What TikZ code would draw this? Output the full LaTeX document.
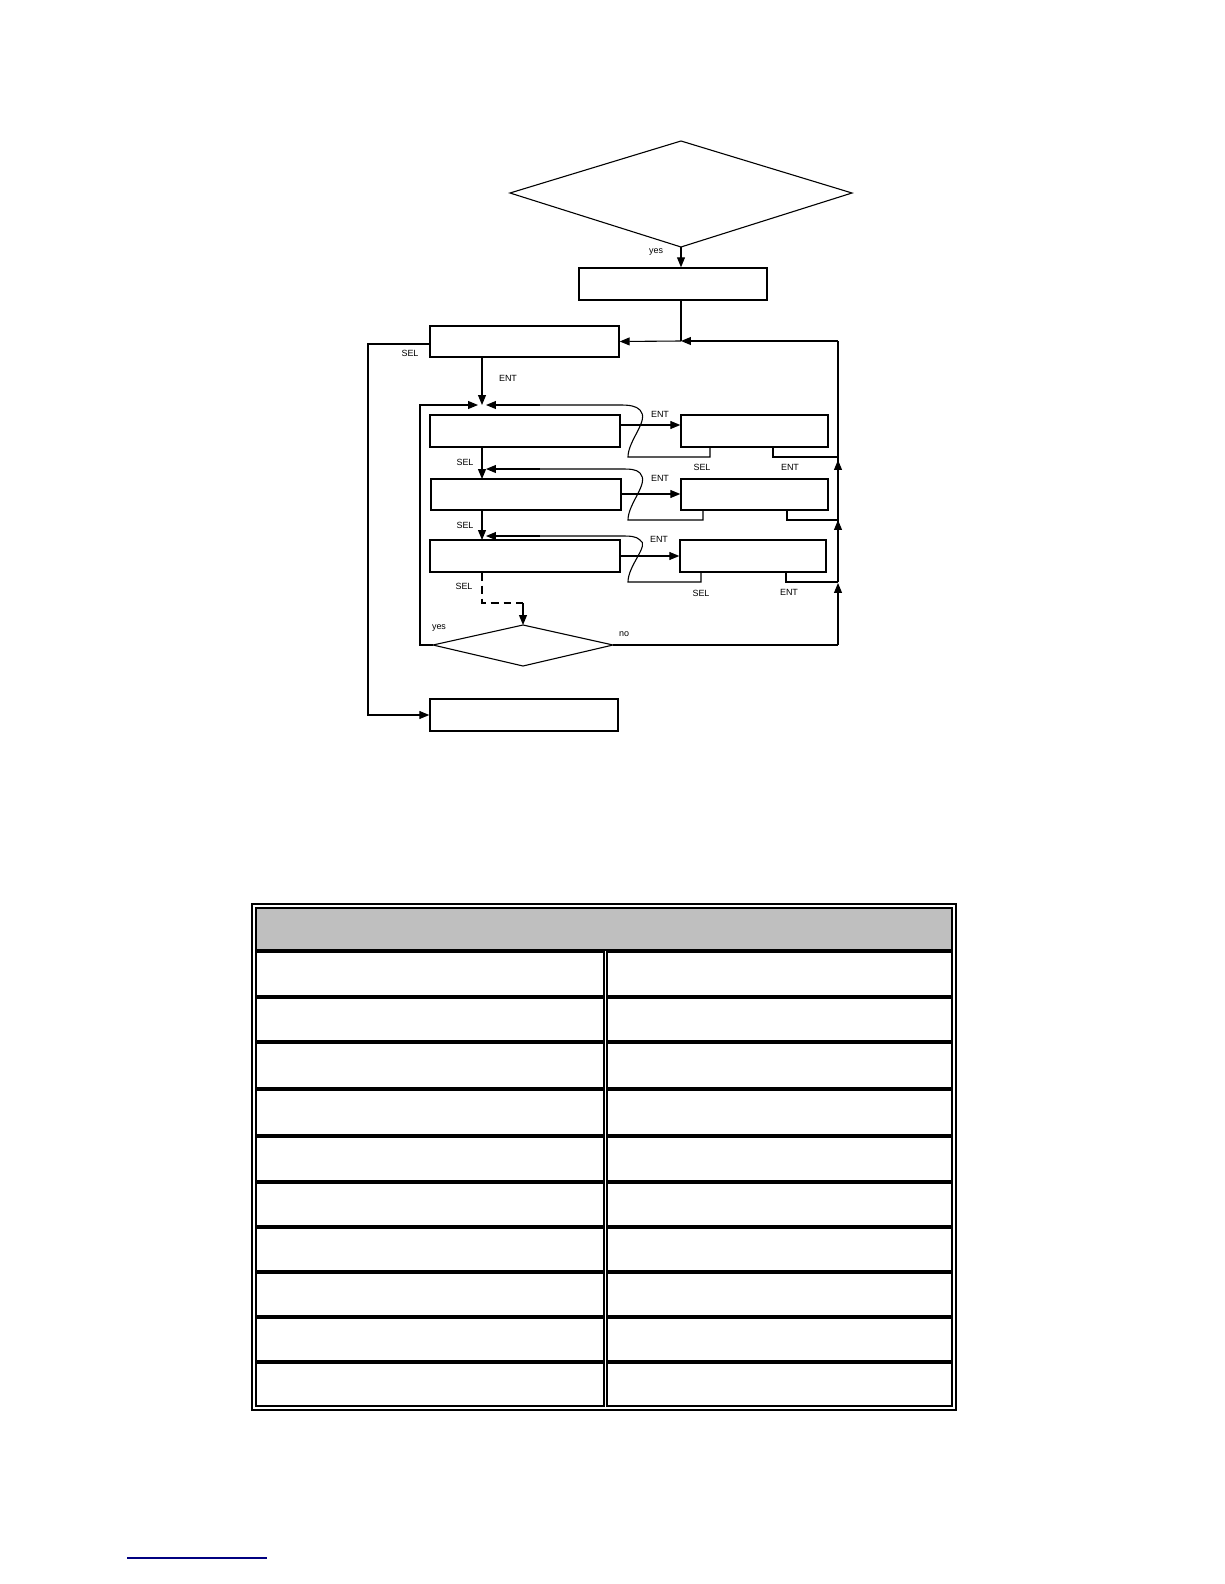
\documentclass[tikz,border=0pt]{standalone}
\usepackage{fontspec}
\setmainfont{Liberation Sans}
\usetikzlibrary{arrows.meta}
\begin{document}
\begin{tikzpicture}[x=1bp,y=-1bp,
  box/.style={draw,line width=1.4pt,minimum width=0pt,inner sep=0pt},
  ln/.style={line width=1.1pt},
  arr/.style={ln,-{Triangle[length=10pt,width=8pt]}},
  lbl/.style={font=\fontsize{9}{10}\selectfont,inner sep=0pt},
  cell/.style={draw,line width=1.1pt}]
% shapes
\coordinate (dT) at (681,141); \coordinate (dR) at (852,193); \coordinate (dB) at (681,247); \coordinate (dL) at (510,193);
\draw[ln] (dT)--(dR)--(dB)--(dL)--cycle;
\node[box,minimum width=188bp,minimum height=32bp] (b1) at (673,284) {};
\node[box,minimum width=189bp,minimum height=31bp] (b2) at (524.5,341.5) {};
\node[box,minimum width=188bp,minimum height=32bp] (bend) at (524,715) {};
\node[box,minimum width=190bp,minimum height=32bp] (A) at (525,431) {};
\node[box,minimum width=190bp,minimum height=31bp] (B) at (526,494.5) {};
\node[box,minimum width=190bp,minimum height=32bp] (C) at (525,556) {};
\node[box,minimum width=147bp,minimum height=32bp] (D) at (754.5,431) {};
\node[box,minimum width=147bp,minimum height=31bp] (E) at (754.5,494.5) {};
\node[box,minimum width=146bp,minimum height=32bp] (F) at (753,556) {};
\coordinate (sT) at (523,625); \coordinate (sR) at (613,645); \coordinate (sB) at (523,666); \coordinate (sL) at (433,645);
\draw[ln] (sT)--(sR)--(sB)--(sL)--cycle;
% connectors
\coordinate (j1) at (681,341); \coordinate (r0) at (838,341);
\draw[arr] (dB) -- (b1.north -| dB);
\node[lbl] at (656,252) {yes};
\draw[ln] (b1.south -| j1) -- (j1);
\draw[arr] (j1) -- (b2.east);
\draw[arr] (r0) -- (j1);
\coordinate (r1) at (838,457); \coordinate (r2) at (838,520); \coordinate (r3) at (838,582); \coordinate (r4) at (838,645);
\draw[ln] (r1) -- (r0);
\draw[arr] (r2) -- ++(0,-60);
\draw[ln] (r2) -- (r1);
\draw[arr] (r3) -- ++(0,-62);
\draw[ln] (r3) -- (r2);
\draw[arr] (r4) -- ++(0,-62);
\draw[ln] (sR) -- (r4);
\node[lbl] at (624,634) {no};
% SEL to end
\coordinate (s1) at (368,344); \coordinate (s2) at (368,715);
\draw[arr] (b2.west |- s1) -- (s1) -- (s2) -- (bend.west);
\node[lbl] at (410,353) {SEL};
% ENT into loop
\coordinate (top) at (482,405);
\draw[arr] (b2.south -| top) -- (top);
\node[lbl] at (508,378) {ENT};
% loop yes
\coordinate (y1) at (420,645); \coordinate (y2) at (420,405);
\draw[arr] (sL) -- (y1) -- (y2) -- (478,405);
\node[lbl] at (439,628) {yes};
% list SEL
\draw[arr] (A.south -| top) -- (482,479);
\node[lbl] at (465,462) {SEL};
\draw[arr] (B.south -| top) -- (482,540);
\node[lbl] at (465,525) {SEL};
\draw[ln,dashed,dash pattern=on 8pt off 5pt] (C.south -| top) -- (482,603) -- (523,603);
\draw[arr] (523,603) -- (sT);
\node[lbl] at (464,586) {SEL};
% ENT to detail
\draw[arr] (A.east |- 0,425) -- (D.west |- 0,425); \node[lbl] at (660,414) {ENT};
\draw[arr] (B.east |- 0,494) -- (E.west |- 0,494); \node[lbl] at (660,478) {ENT};
\draw[arr] (C.east |- 0,556) -- (F.west |- 0,556); \node[lbl] at (659,539) {ENT};
% SEL back
\draw[ln] (710,447) -- (710,457) -- (628,457) .. controls (628,440) and (650,420) .. (640,410) .. controls (636,406) and (630,405) .. (620,405) -- (490,405);
\draw[arr] (540,405) -- (486,405);
\draw[ln] (703,510) -- (703,520) -- (628,520) .. controls (628,503) and (650,483) .. (640,473) .. controls (636,469) and (630,469) .. (620,469) -- (490,469);
\draw[arr] (540,469) -- (486,469);
\draw[ln] (701,572) -- (701,582) -- (628,582) .. controls (628,565) and (650,545) .. (640,540) .. controls (636,536) and (630,536) .. (620,536) -- (490,536);
\draw[arr] (540,536) -- (486,536);
\node[lbl] at (702,467) {SEL}; \node[lbl] at (790,467) {ENT};
\node[lbl] at (701,593) {SEL}; \node[lbl] at (789,592) {ENT};
% ENT back
\draw[ln] (773,447) -- (773,457) -- (r1);
\draw[ln] (787,510) -- (787,520) -- (r2);
\draw[ln] (786,572) -- (786,582) -- (r3);
% table
\draw[line width=1.1pt] (252,904) rectangle (956,1410);
\draw[cell,fill=black!25] (256,908) rectangle (952,950);
\foreach \a/\b in {952/996,998/1041,1043/1088,1090/1135,1137/1181,1183/1226,1228/1271,1273/1316,1318/1361,1363/1406}{
  \draw[cell] (256,\a) rectangle (604,\b);
  \draw[cell] (607,\a) rectangle (952,\b);
}
\draw[line width=1.2pt,blue!50!black] (127,1558) -- (267,1558);
\pgfresetboundingbox
\path[use as bounding box] (0,0) rectangle (1224,1584);
\end{tikzpicture}
\end{document}
